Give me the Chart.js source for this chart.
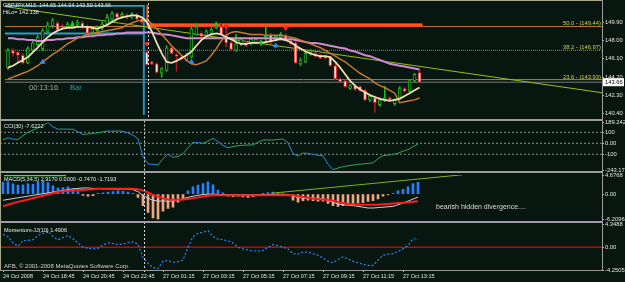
<!DOCTYPE html>
<html>
<head>
<meta charset="utf-8">
<script src="https://cdn.jsdelivr.net/npm/chart.js@4.4.1/dist/chart.umd.min.js"></script>
<style>
  html, body { margin: 0; padding: 0; background: #07170f; }
  #wrap { position: relative; width: 625px; height: 282px; overflow: hidden; background: #07170f; }
  #wrap canvas { position: absolute; left: 0; }
  .rule { position: absolute; background: #9c9c9c; }
</style>
</head>
<body>
<div id="wrap">
  <canvas id="main" width="625" height="120" style="top:0"></canvas>
  <canvas id="cci" width="625" height="52" style="top:120px"></canvas>
  <canvas id="macd" width="625" height="50" style="top:172px"></canvas>
  <canvas id="mom" width="625" height="60" style="top:222px"></canvas>
  <div class="rule" style="left:0;top:0;width:603px;height:1px;background:#a9a98c"></div>
  <div class="rule" style="left:0;top:0;width:1px;height:271px;background:#a9a98c"></div>
  <div class="rule" style="left:0;top:119px;width:603px;height:2px"></div>
  <div class="rule" style="left:0;top:171px;width:603px;height:2px"></div>
  <div class="rule" style="left:0;top:221px;width:603px;height:2px;background:#a39aaa"></div>
  <div class="rule" style="left:0;top:270px;width:603px;height:1px"></div>
  <div class="rule" style="left:602px;top:0;width:1px;height:271px"></div>
</div>
<script>
// x axis: one bar every 15 minutes, a label every 8 bars
const tickLabels = ["24 Oct 2008", "24 Oct 18:45", "24 Oct 20:45", "24 Oct 22:45", "27 Oct 01:15",
  "27 Oct 03:15", "27 Oct 05:15", "27 Oct 07:15", "27 Oct 09:15", "27 Oct 11:15", "27 Oct 13:15"];
const tickStep = 8;
const separatorBar = 28.2;

// GBPJPY M15 candles
const opens = [145.18,146.95,146.75,146.46,145.67,146.95,147.54,147.14,148.92,149.51,
  149.80,149.51,149.41,149.60,149.60,149.80,149.41,148.82,149.01,149.31,
  149.70,150.20,150.79,150.49,150.59,150.39,150.59,150.20,146.75,145.77,
  145.57,144.59,144.88,147.24,146.46,146.26,145.96,146.26,148.62,148.72,
  148.52,148.72,149.31,149.41,148.42,147.74,146.95,147.64,147.74,147.64,
  147.74,147.64,148.13,148.52,148.13,148.33,148.52,147.93,147.74,145.57,
  145.77,146.65,146.65,146.46,146.36,146.26,145.37,144.00,143.80,143.01,
  143.31,143.21,142.82,141.83,142.03,141.34,141.73,142.03,141.44,142.03,
  143.01,142.72,143.80,144.65];
const highs = [147.14,147.14,146.85,146.65,147.34,147.93,148.52,149.21,149.90,150.29,
  150.00,149.70,149.90,150.00,150.10,150.00,149.60,149.31,149.51,149.90,
  150.69,150.98,150.88,150.88,150.79,150.88,150.79,150.39,146.95,145.86,
  145.67,145.18,147.44,147.34,146.65,146.46,146.65,149.41,149.70,148.92,
  149.11,149.31,149.90,149.70,149.60,147.93,148.62,148.23,147.93,148.23,
  148.23,148.03,149.41,148.72,148.52,148.82,148.72,148.13,147.93,146.16,
  146.75,147.05,146.75,146.55,146.46,146.36,145.57,144.10,143.90,143.41,
  143.41,143.31,142.91,142.33,142.23,142.03,143.21,142.13,141.93,143.21,
  143.11,143.90,144.59,144.94];
const lows = [144.98,146.36,145.77,145.57,145.57,146.85,147.44,146.95,148.72,149.31,
  149.01,149.11,149.31,149.41,149.51,149.21,148.62,148.62,148.92,149.11,
  149.51,150.00,150.20,150.29,150.20,150.29,150.00,149.70,145.37,145.47,
  144.59,144.19,144.78,146.55,144.78,145.96,145.86,146.16,148.52,148.33,
  148.42,148.62,149.21,148.52,147.34,146.95,146.85,147.44,147.34,147.54,
  147.64,147.54,147.74,147.64,147.93,148.23,148.03,147.54,145.57,145.37,
  145.67,146.46,146.26,146.06,146.06,145.28,143.90,143.60,143.11,142.91,
  142.82,142.72,141.73,141.64,140.55,141.14,141.64,141.73,141.24,141.93,
  142.62,142.62,143.70,143.59];
const closes = [146.95,146.65,146.46,145.67,147.14,147.74,148.33,149.01,149.60,150.10,
  149.11,149.31,149.70,149.80,149.90,149.41,148.72,149.21,149.41,149.70,
  150.39,150.79,150.39,150.69,150.39,150.69,150.20,149.90,145.47,145.57,
  144.68,145.08,147.24,146.65,146.36,146.06,146.46,149.21,149.41,148.42,
  148.92,149.11,149.70,148.62,147.74,147.05,147.64,148.13,147.44,148.13,
  148.13,147.93,148.42,147.93,148.42,148.62,148.13,147.64,145.67,145.96,
  146.65,146.95,146.36,146.16,146.16,145.37,144.00,143.70,143.21,143.31,
  142.91,142.82,141.83,142.23,141.54,141.83,142.03,141.83,141.83,143.01,
  142.72,143.80,144.49,143.66];

// moving averages
const maFast = [145.18,145.37,145.67,145.96,146.26,146.75,147.24,147.83,148.33,148.72,
  149.01,149.21,149.31,149.31,149.41,149.41,149.41,149.31,149.21,149.41,
  149.60,149.90,150.20,150.39,150.49,150.59,150.59,150.39,149.90,148.92,
  147.74,146.65,145.77,145.67,145.87,146.16,146.46,146.85,147.44,148.03,
  148.42,148.62,148.72,148.62,148.33,148.13,147.83,147.64,147.64,147.74,
  147.74,147.74,147.83,147.93,148.03,148.13,148.03,147.83,147.44,147.15,
  146.85,146.65,146.46,146.36,146.36,146.26,145.77,145.18,144.49,143.80,
  143.31,142.91,142.62,142.32,142.13,141.93,141.83,141.73,141.83,141.93,
  142.23,142.52,142.82,143.11];
const maMid = [144.00,144.19,144.39,144.59,144.78,145.08,145.37,145.77,146.16,146.55,
  146.85,147.24,147.64,147.93,148.23,148.42,148.62,148.72,148.82,148.92,
  149.01,149.11,149.21,149.31,149.60,149.80,150.00,150.10,150.20,149.70,
  149.21,148.62,148.03,147.44,146.95,146.46,145.96,145.57,145.47,145.67,
  145.87,146.46,147.15,147.93,148.52,148.82,148.92,148.82,148.72,148.62,
  148.62,148.62,148.52,148.52,148.52,148.52,148.42,148.33,148.23,148.03,
  147.83,147.64,147.44,147.24,146.95,146.65,146.36,146.06,145.77,145.37,
  144.98,144.59,144.29,144.00,143.60,143.31,143.11,142.82,142.52,141.54,
  141.63,141.73,141.83,142.03];
const maSlow = [148.23,148.23,148.13,148.13,148.03,148.03,147.93,147.93,148.03,148.03,
  148.13,148.13,148.23,148.23,148.33,148.33,148.42,148.42,148.52,148.52,
  148.62,148.62,148.72,148.72,148.82,148.82,148.82,148.82,148.82,148.82,
  148.72,148.62,148.62,148.52,148.42,148.33,148.23,148.23,148.23,148.23,
  148.23,148.23,148.23,148.23,148.23,148.23,148.23,148.23,148.23,148.23,
  148.23,148.23,148.23,148.23,148.23,148.23,148.13,148.13,148.03,147.93,
  147.83,147.74,147.74,147.64,147.54,147.44,147.34,147.24,147.15,146.95,
  146.85,146.65,146.46,146.36,146.16,145.96,145.77,145.57,145.47,145.37,
  145.28,145.18,145.08,144.98];

// drawn objects on the price panel
const trendBars = [-0.6, 119.8];
const trendPrices = [151.51, 142.57];
const fibNames = ["50.0", "38.2", "23.6"];
const fibPrices = [149.44, 146.97, 143.93];
const zoneBars = [28.1, 83.6];
const zonePrice = 149.60;
const boxBars = [-0.6, 27.4];
const boxPrices = [151.6, 148.72];
const arrowDownBars = [28, 44, 56];
const arrowDownPrices = [147.64, 149.45, 149.27];
const arrowUpBars = [7, 37, 54];
const arrowUpPrices = [145.77, 145.77, 147.44];
const arrowGreenBars = [13, 42, 51];
const arrowGreenPrices = [149.60, 149.60, 147.74];
const priceTicks = [149.90, 148.00, 146.10, 144.20, 142.30, 140.40];

// CCI(30)
const cci = [32,50,38,35,70,100,120,140,162,189,
  150,128,130,128,129,105,80,84,90,95,
  104,112,110,112,108,95,75,40,-120,-188,
  -192,-196,-140,-100,-128,-120,-95,-40,9,5,
  0,20,45,15,-20,-40,-30,-22,-18,-16,
  -15,8,30,30,30,35,39,5,-95,-115,
  -88,-92,-102,-108,-113,-190,-240,-225,-213,-205,
  -198,-192,-188,-184,-178,-140,-113,-108,-102,-90,
  -72,-58,-30,-7.6];
const cciLevels = [100, 0, -100];
const cciTicks = [189.2428, 100, 0, -100, -243.173];
const cciTickText = ["189.2428", "100", "0.00", "-100", "-243.173"];

// MACD(5,34,5)
const macdHist = [2.9,3.0,2.5,2.2,2.3,2.5,2.4,3.0,3.2,2.8,
  2.0,1.5,1.6,1.8,1.3,0.6,-0.3,-0.5,-0.4,0.2,
  0.3,0.5,0.6,0.8,0.7,0.5,0.2,-0.8,-2.8,-4.5,
  -5.8,-6.2,-4.2,-3.5,-3.2,-2.0,-1.0,0.8,1.8,2.2,
  2.6,3.0,2.3,1.0,0.3,-0.5,-0.6,-0.5,-0.7,-0.8,
  -0.6,-0.3,0.2,0.4,0.5,0.3,0.1,-0.3,-1.5,-2.0,
  -1.6,-1.5,-1.6,-1.7,-1.7,-2.3,-2.8,-3.0,-2.8,-2.6,
  -2.5,-2.2,-2.1,-1.8,-1.6,-1.2,-0.5,-0.2,0.2,0.8,
  1.2,1.8,2.6,2.9];
const macdMain = [-1.5,-1.3,-1.1,-0.9,-0.7,-0.5,-0.3,-0.1,0.1,0.3,
  0.5,0.7,0.9,1.1,1.3,1.4,1.5,1.5,1.4,1.4,
  1.3,1.3,1.2,1.2,1.2,1.2,1.1,0.6,-0.3,-1.0,
  -1.5,-1.7,-1.7,-1.7,-1.7,-1.5,-1.1,-0.8,-0.5,-0.3,
  -0.1,0.0,0.0,-0.1,-0.1,-0.15,-0.15,-0.15,-0.15,-0.15,
  -0.15,-0.1,-0.1,-0.1,-0.1,-0.1,-0.15,-0.2,-0.5,-0.8,
  -1.0,-1.0,-1.0,-1.0,-1.1,-1.5,-2.0,-2.4,-2.6,-2.7,
  -2.8,-3.0,-3.2,-3.4,-3.4,-3.3,-3.2,-3.1,-3.0,-2.6,
  -2.2,-1.7,-1.2,-0.75];
const macdSignal = [-3.0,-2.6,-2.2,-1.9,-1.6,-1.3,-1.0,-0.7,-0.4,-0.1,
  0.2,0.5,0.7,0.8,0.9,1.0,1.0,1.1,1.2,1.3,
  1.3,1.3,1.3,1.3,1.3,1.3,1.3,1.2,0.9,0.4,
  -0.2,-0.6,-1.0,-1.3,-1.4,-1.4,-1.3,-1.2,-1.0,-0.8,
  -0.6,-0.4,-0.3,-0.25,-0.25,-0.25,-0.25,-0.25,-0.25,-0.25,
  -0.25,-0.25,-0.25,-0.25,-0.25,-0.25,-0.25,-0.25,-0.3,-0.5,
  -0.7,-0.9,-1.1,-1.2,-1.3,-1.4,-1.6,-1.9,-2.2,-2.4,
  -2.5,-2.6,-2.6,-2.6,-2.6,-2.6,-2.5,-2.4,-2.3,-2.2,
  -2.1,-2.0,-1.85,-1.72];
const macdTrendBars = [53.6, 92];
const macdTrendValues = [0.2, 4.75];
const macdTopBars = [0.2, 12.6];
const macdTopValue = 4.6;
const macdTicks = [4.6768, 0, -6.2096];
const macdTickText = ["4.6768", "0.00", "-6.2096"];

// Momentum(10)
const momentum = [2.4,2.0,0.8,0.2,1.2,1.3,1.4,2.2,2.6,3.0,
  2.0,1.4,1.8,2.2,1.6,0.8,0.0,-0.2,-0.3,-0.2,
  0.4,0.8,0.7,0.5,0.6,0.9,1.0,0.6,-1.9,-3.0,
  -3.8,-4.0,-2.6,-2.5,-2.8,-2.7,-2.4,0.0,2.0,2.6,
  2.8,3.1,2.0,1.5,1.4,1.2,0.8,0.0,-0.3,-0.5,
  -0.7,-0.7,-0.6,0.0,0.5,0.3,0.0,-0.3,-1.2,-1.3,
  -0.9,-0.9,-1.2,-1.5,-2.0,-2.6,-2.9,-2.3,-1.8,-2.2,
  -2.6,-2.9,-3.2,-3.4,-3.4,-2.4,-1.5,-1.3,-1.2,-0.8,
  -0.3,0.3,1.6,1.49];
const momTicks = [4.3488, 0, -4.2505];
const momTickText = ["4.3488", "0.00", "-4.2505"];

const FONT = "'Liberation Sans', Arial, sans-serif";
const BG = "#07170f";
const X_MIN = -0.6, X_MAX = 119.8;

function pts(arr) { return arr.map((y, i) => ({ x: i, y: y })); }
function pairs(xs, ys) { return xs.map((x, k) => ({ x: x, y: ys[k] })); }
function flat(xs, v) { return xs.map(x => ({ x: x, y: v })); }

function lineDs(data, color, width, extra) {
  return Object.assign({ type: "line", data: data, borderColor: color, borderWidth: width,
    pointRadius: 0, tension: 0, fill: false }, extra || {});
}

function yAxis(min, max, ticks, texts) {
  return {
    position: "right", min: min, max: max,
    grid: { display: true, drawOnChartArea: false, drawTicks: true, tickLength: 2, color: "#b8b8b8" },
    border: { display: false },
    afterBuildTicks: s => { s.ticks = ticks.map(v => ({ value: v })); },
    afterFit: s => { s.width = 23; s.paddingTop = 0; s.paddingBottom = 0; },
    ticks: { autoSkip: false, padding: 1, color: "#e4e4e4", font: { family: FONT, size: 5.8 },
      callback: (v, idx) => texts ? texts[idx] : v.toFixed(2) }
  };
}

const hiddenX = { type: "linear", min: X_MIN, max: X_MAX, display: false, offset: false };

// dashed period separator
const separator = {
  id: "separator",
  afterDatasetsDraw(chart) {
    const ctx = chart.ctx, a = chart.chartArea;
    const x = Math.round(chart.scales.x.getPixelForValue(separatorBar)) + 0.5;
    ctx.save();
    ctx.strokeStyle = "#d8d8d8";
    ctx.setLineDash([2, 2]);
    ctx.lineWidth = 1;
    ctx.beginPath(); ctx.moveTo(x, a.top - 2); ctx.lineTo(x, a.bottom + 2); ctx.stroke();
    ctx.restore();
  }
};

function texts(id, items) {
  return {
    id: id,
    afterDraw(chart) {
      const ctx = chart.ctx;
      ctx.save();
      items.forEach(t => {
        ctx.font = t.font || ("5.5px " + FONT);
        ctx.fillStyle = t.color || "#e8e8e8";
        ctx.textAlign = t.align || "left";
        ctx.fillText(t.text, t.x, t.y);
      });
      ctx.restore();
    }
  };
}

// fibo captions and the bid price box
const priceExtras = {
  id: "priceExtras",
  afterDraw(chart) {
    const ctx = chart.ctx, y = chart.scales.y;
    ctx.save();
    ctx.font = "5.8px " + FONT;
    ctx.textAlign = "right";
    ctx.fillStyle = "#d2d24e";
    fibPrices.forEach((p, k) => {
      ctx.fillText(fibNames[k] + " - (" + p.toFixed(2) + ")", 601, y.getPixelForValue(p) - 1);
    });
    const last = closes[closes.length - 1];
    const py = y.getPixelForValue(last);
    ctx.fillStyle = "#ffffff";
    ctx.fillRect(603, py - 4, 21, 8);
    ctx.fillStyle = "#000000";
    ctx.textAlign = "left";
    ctx.fillText(last.toFixed(2), 605, py + 2);
    ctx.restore();
  }
};

const baseOpts = {
  responsive: false, animation: false, devicePixelRatio: 1,
  plugins: { legend: { display: false }, tooltip: { enabled: false } }
};

const bull = opens.map((o, i) => closes[i] >= o);

new Chart(document.getElementById("main"), {
  type: "bar",
  data: {
    datasets: [
      { type: "scatter", data: pairs(arrowDownBars, arrowDownPrices), pointStyle: "triangle", rotation: 180,
        pointRadius: 2.5, backgroundColor: "#ff2020", borderColor: "#ff2020", order: 0 },
      { type: "scatter", data: pairs(arrowUpBars, arrowUpPrices), pointStyle: "triangle",
        pointRadius: 2.5, backgroundColor: "#2f8cff", borderColor: "#2f8cff", order: 0 },
      { type: "scatter", data: pairs(arrowGreenBars, arrowGreenPrices), pointStyle: "triangle",
        pointRadius: 2, backgroundColor: "#22cc22", borderColor: "#22cc22", order: 0 },
      lineDs(pts(maFast), "#f0dcb0", 1.8, { order: 1 }),
      lineDs(pts(maMid), "#c9782c", 1.5, { order: 2 }),
      lineDs(pts(maSlow), "#d08ad2", 2, { order: 2 }),
      { type: "bar", data: opens.map((o, i) => ({ x: i, y: [o, closes[i]] })), grouped: false,
        barThickness: 3, minBarLength: 1, borderWidth: 1, borderSkipped: false,
        backgroundColor: bull.map(b => b ? BG : "#f6e9e9"),
        borderColor: bull.map(b => b ? "#1fb41f" : "#d42020"), order: 3 },
      { type: "bar", data: lows.map((l, i) => ({ x: i, y: [l, highs[i]] })), grouped: false,
        barThickness: 1, borderWidth: 0,
        backgroundColor: bull.map(b => b ? "#1fb41f" : "#b01818"), order: 4 },
      lineDs(pairs(trendBars, trendPrices), "#9bbd1c", 1, { order: 5 }),
      lineDs(flat(zoneBars, zonePrice), "#ffa040", 1, { borderDash: [1, 1], order: 5 }),
      lineDs(flat(zoneBars, zonePrice), "#ff3a12", 3.5, { order: 6 }),
      lineDs([{ x: zoneBars[0], y: 151.7 }, { x: zoneBars[0], y: zonePrice }], "#ff5a20", 2, { order: 6 }),
      lineDs(flat([X_MIN, boxBars[1]], boxPrices[0]), "#2a9fc5", 2, { order: 7 }),
      lineDs(flat([X_MIN, boxBars[1]], boxPrices[1]), "#2a9fc5", 2, { order: 7 }),
      lineDs([{ x: boxBars[1], y: 151.7 }, { x: boxBars[1], y: 140.2 }], "#2590b8", 2, { order: 7 }),
      lineDs(flat([X_MIN, X_MAX], closes[closes.length - 1]), "#6c7c88", 1, { order: 8 }),
      lineDs(flat([X_MIN, X_MAX], fibPrices[0]), "#c0762c", 1, { order: 8 }),
      lineDs(flat([X_MIN, X_MAX], fibPrices[1]), "#85851e", 1.2, { borderDash: [1, 1], order: 8 }),
      lineDs(flat([X_MIN, X_MAX], fibPrices[2]), "#bd7a34", 1, { order: 8 })
    ]
  },
  options: Object.assign({}, baseOpts, {
    layout: { padding: { top: 2, bottom: 2, left: 0, right: 0 } },
    scales: { x: hiddenX, y: yAxis(140.26, 151.67, priceTicks, null) }
  }),
  plugins: [separator, priceExtras, texts("mainText", [
    { text: "GBPJPY,M15  144.65 144.94 143.59 143.66", x: 3, y: 7 },
    { text: "HiLo= 142.138", x: 3, y: 14 },
    { text: "00:13:16", x: 29, y: 90, color: "#a8a8a8", font: "7.5px " + FONT },
    { text: "Bar", x: 70, y: 90, color: "#2aa0b8", font: "7.5px " + FONT }
  ])]
});

new Chart(document.getElementById("cci"), {
  type: "line",
  data: {
    datasets: [
      lineDs(pts(cci), "#2a8ad8", 1, {
        segment: { borderColor: c => c.p1.parsed.y >= c.p0.parsed.y ? "#36a05a" : "#2a8ad8" } }),
      ...cciLevels.map(v => lineDs(flat([X_MIN, X_MAX], v), "#8c8c8c", 1, { borderDash: [2, 2] }))
    ]
  },
  options: Object.assign({}, baseOpts, {
    layout: { padding: { top: 2.5, bottom: 2, left: 0, right: 0 } },
    scales: { x: hiddenX, y: yAxis(-243.173, 189.2428, cciTicks, cciTickText) }
  }),
  plugins: [separator, texts("cciText", [{ text: "CCI(30) -7.6222", x: 4, y: 8 }])]
});

new Chart(document.getElementById("macd"), {
  type: "bar",
  data: {
    datasets: [
      lineDs(pairs(macdTrendBars, macdTrendValues), "#7fb21c", 1, { order: 0 }),
      lineDs(flat(macdTopBars, macdTopValue), "#3fe03f", 2, { order: 0 }),
      lineDs(pts(macdSignal), "#ff1a1a", 2, { order: 1 }),
      lineDs(pts(macdMain), "#cfcfcf", 1, { order: 2 }),
      { type: "bar", data: pts(macdHist), grouped: false, barThickness: 2, borderWidth: 0,
        backgroundColor: macdHist.map(v => v >= 0 ? "#2a7fff" : "#f1a682"), order: 3 }
    ]
  },
  options: Object.assign({}, baseOpts, {
    layout: { padding: { top: 3, bottom: 2.5, left: 0, right: 0 } },
    scales: { x: hiddenX, y: yAxis(-6.2096, 4.6768, macdTicks, macdTickText) }
  }),
  plugins: [separator, texts("macdText", [
    { text: "MACD(5,34,5) 2.9170 0.0000 -0.7470 -1.7193", x: 4, y: 9 },
    { text: "bearish hidden divergence....", x: 436, y: 37, color: "#d8d8d8", font: "7px " + FONT }
  ])]
});

new Chart(document.getElementById("mom"), {
  type: "line",
  data: {
    datasets: [
      lineDs(pts(momentum), "#2a86ff", 1.2, { borderDash: [2, 2] }),
      lineDs(flat([X_MIN, X_MAX], 0), "#d40000", 1.5)
    ]
  },
  options: Object.assign({}, baseOpts, {
    layout: { padding: { top: 2, bottom: 0, left: 0, right: 0 } },
    scales: {
      x: {
        type: "linear", min: X_MIN, max: X_MAX, offset: false, position: "bottom",
        border: { display: false },
        grid: { display: true, drawOnChartArea: false, drawTicks: true, tickLength: 2, color: "#b8b8b8" },
        afterBuildTicks: s => { s.ticks = tickLabels.map((t, k) => ({ value: k * tickStep })); },
        afterFit: s => { s.height = 12; s.paddingLeft = 0; s.paddingRight = 0; },
        ticks: { autoSkip: false, maxRotation: 0, align: "start", padding: 1, color: "#e4e4e4",
          font: { family: FONT, size: 5.5 }, callback: (v, idx) => tickLabels[idx] }
      },
      y: yAxis(-4.2505, 4.3488, momTicks, momTickText)
    }
  }),
  plugins: [separator, texts("momText", [
    { text: "Momentum-JJ(10) 1.4906", x: 4, y: 10 },
    { text: "AFB, \u00a9 2001-2008 MetaQuotes Software Corp.", x: 4, y: 46, color: "#d0d0d0", font: "6px " + FONT }
  ])]
});
</script>
</body>
</html>
